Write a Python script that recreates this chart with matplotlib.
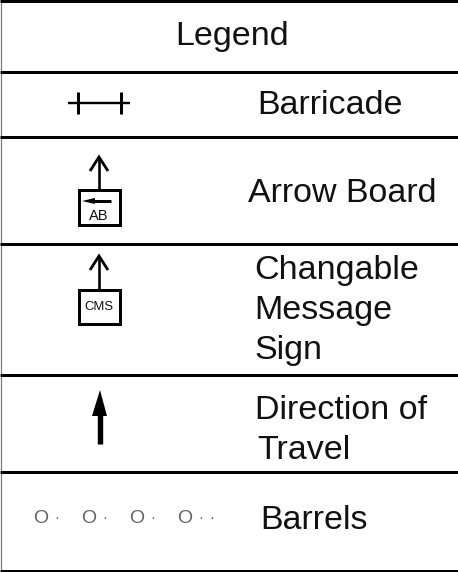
import matplotlib
matplotlib.use("Agg")
import matplotlib.pyplot as plt

W, H = 458, 572
rules_y = [1, 71.5, 136.5, 244, 375, 471.5, 571]
title = "Legend"
labels = [("Barricade", 257, 105), ("Arrow Board", 248, 193), ("Changable", 254, 271),
          ("Message", 254, 311), ("Sign", 254, 351), ("Direction of", 255, 410.3),
          ("Travel", 257, 450.3), ("Barrels", 260, 520.3)]
barrel_x = [41, 89, 137, 185]
barrel_dots = [57, 105, 153, 201, 212]

plt.rcParams['font.family'] = ['Liberation Sans', 'DejaVu Sans']
fig = plt.figure(figsize=(W/100, H/100), dpi=100)
ax = fig.add_axes([0, 0, 1, 1])
ax.set_xlim(0, W); ax.set_ylim(H, 0); ax.axis('off')
px = 0.72

def line(xs, ys, lw, color='black'):
    ax.plot(xs, ys, color=color, lw=lw*px, solid_capstyle='butt', solid_joinstyle='miter')

line([0.5, 0.5], [0, H], 1.2, '#777777')
for y in rules_y:
    line([0, W], [y, y], 3)

ax.text(232, 36, title, fontsize=24.5, ha='center', va='center', color='#111111')
for s, x, y in labels:
    ax.text(x, y, s, fontsize=24.5, ha='left', va='center', color='#111111')

# Barricade
line([68, 130], [103, 103], 2.4)
line([78, 78], [92, 114], 3)
line([121, 121], [92, 114], 3)

# Arrow board
line([99, 99], [159, 190], 2.6)
line([90, 99, 108], [171, 157, 171], 2.8)
ax.add_patch(plt.Rectangle((78.5, 190), 41, 34.5, fc='white', ec='black', lw=3*px))
line([92, 111], [201, 201], 3)
ax.fill([82, 95, 95], [201, 198, 204], color='black', lw=0)
ax.text(98.5, 215.5, "AB", fontsize=10.5, ha='center', va='center', color='#111111')

# CMS
line([99, 99], [257, 289], 2.6)
line([90, 99, 108], [270, 256, 270], 2.8)
ax.add_patch(plt.Rectangle((78.5, 289.5), 41, 34, fc='white', ec='black', lw=3*px))
ax.text(98.5, 306.5, "CMS", fontsize=9.4, ha='center', va='center', color='#111111')

# Direction of travel
line([100, 100], [415, 444], 5.4)
ax.fill([100, 107, 92], [390, 416, 416], color='black', lw=0)

# Barrels
for x in barrel_x:
    ax.text(x, 518.5, "O", fontsize=14, ha='center', va='center', color='#666666')
for x in barrel_dots:
    ax.text(x, 518, "\u00b7", fontsize=11, ha='center', va='center', color='#666666')

fig.savefig("out.png", dpi=100)
